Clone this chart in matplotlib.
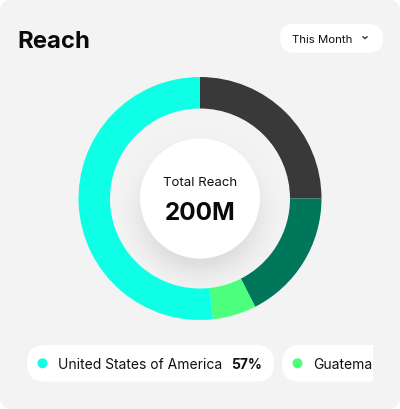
import numpy as np
import matplotlib.pyplot as plt
from matplotlib.patches import FancyBboxPatch, Circle, Rectangle

# Donut shares (percent of total reach), clockwise from 12 o'clock
shares = [25.0, 17.5, 5.8, 51.7]
share_colors = ['#393939', '#00775a', '#4cff7c', '#0effe6']

title = 'Reach'
period = 'This Month'
center_label = 'Total Reach'
center_value = '200M'

legend_names = ['United States of America', 'Guatemala']
legend_pct = ['57%', '']
legend_colors = ['#0effe6', '#4cff7c']

plt.rcParams['font.family'] = ['Inter', 'DejaVu Sans']

W, H = 400, 409
BG = '#f3f3f3'
fig = plt.figure(figsize=(W / 100, H / 100), dpi=100)
fig.patch.set_facecolor('white')
ax = fig.add_axes([0, 0, 1, 1])

# card background
card = FancyBboxPatch((0, 0), W, H, boxstyle='round,pad=0,rounding_size=12',
                      fc=BG, ec='none', zorder=0)
ax.add_patch(card)

cx, cy, R, ring_w = 200, 198.5, 121.5, 31.5

# soft shadow below inner white disc
yy, xx = np.mgrid[100:300, 100:300] + 0.5
d = np.hypot(xx - cx, yy - (cy + 14))
alpha = 0.11 / (1 + np.exp((d - 58) / 8))
alpha[np.hypot(xx - cx, yy - cy) > R - ring_w] = 0
img = np.zeros((200, 200, 4))
img[..., 3] = alpha
ax.imshow(img, extent=(100, 300, 300, 100), zorder=1, interpolation='bilinear')

# donut ring (y axis is inverted, so counterclock=True runs clockwise on screen)
ax.pie(shares, colors=share_colors, center=(cx, cy), radius=R,
       startangle=-90, counterclock=True,
       wedgeprops=dict(width=ring_w, linewidth=0, zorder=2))

ax.add_patch(Circle((cx, cy), 60, fc='white', ec='none', zorder=3))
ax.text(cx, 186.5, center_label, ha='center', va='baseline', fontsize=9.5,
        color='#111111', zorder=4)
ax.text(cx, 219.5, center_value, ha='center', va='baseline', fontsize=17.5,
        fontweight='bold', color='#0a0a0a', zorder=4)

# header
ax.text(17, 47.5, title, ha='left', va='baseline', fontsize=17.2,
        fontweight='bold', color='#0a0a0a')
ax.add_patch(FancyBboxPatch((280, 24), 103, 28.7,
                            boxstyle='round,pad=0,rounding_size=14.3',
                            fc='white', ec='none'))
ax.text(292.5, 42.7, period, ha='left', va='baseline', fontsize=8.2,
        color='#111111')
ax.plot([362.8, 365, 367.2], [36.6, 38.6, 36.6], color='#333333', lw=1.0,
        solid_capstyle='round', solid_joinstyle='round')

# legend chips
pill_x = [27, 282]
pill_w = [247, 160]
for i, name in enumerate(legend_names):
    x0 = pill_x[i]
    ax.add_patch(FancyBboxPatch((x0, 345), pill_w[i], 36.7,
                                boxstyle='round,pad=0,rounding_size=18.3',
                                fc='white', ec='none', zorder=2))
    ax.add_patch(Circle((x0 + 15.5, 363.3), 5, fc=legend_colors[i], ec='none',
                        zorder=3))
    ax.text(x0 + 31.5, 369.3, name, ha='left', va='baseline',
            fontsize=10, color='#111111', zorder=3)
    if legend_pct[i]:
        ax.text(x0 + 235.5, 369.3, legend_pct[i], ha='right',
                va='baseline', fontsize=10, fontweight='bold',
                color='#111111', zorder=3)

# the chip row scrolls: hide everything past its right edge
ax.add_patch(Rectangle((373, 340), 27, 50, fc=BG, ec='none', zorder=5))

ax.set_xlim(0, W)
ax.set_ylim(H, 0)
ax.set_aspect('equal')
ax.axis('off')

fig.savefig('out.png', dpi=100, facecolor='white')
